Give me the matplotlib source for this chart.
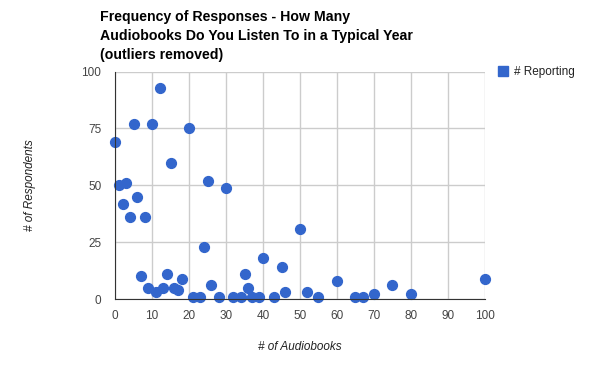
import matplotlib
matplotlib.use("Agg")
import matplotlib.pyplot as plt
from matplotlib.lines import Line2D

plt.rcParams['font.family'] = ['Liberation Sans', 'DejaVu Sans']

# audiobooks per year -> respondents
audiobooks = [0, 1, 2, 3, 4, 5, 6, 7, 8, 9, 10, 11, 12, 13, 14, 15, 16, 17, 18, 20,
              21, 23, 24, 25, 26, 28, 30, 32, 34, 35, 36, 37, 39, 40, 43, 45, 46,
              50, 52, 55, 60, 65, 67, 70, 75, 80, 100]
respondents = [69, 50, 42, 51, 36, 77, 45, 10, 36, 5, 77, 3, 93, 5, 11, 60, 5, 4, 9, 75,
               1, 1, 23, 52, 6, 1, 49, 1, 1, 11, 5, 1, 1, 18, 1, 14, 3,
               31, 3, 1, 8, 1, 1, 2, 6, 2, 9]

fig = plt.figure(figsize=(6, 3.71), dpi=100)
ax = fig.add_axes([0.192, 0.194, 0.616, 0.613])

ax.scatter(audiobooks, respondents, s=50, color='#3366cc', zorder=3, clip_on=False)

ax.set_xlim(0, 100)
ax.set_ylim(0, 100)
ax.set_xticks(range(0, 101, 10))
ax.set_yticks([0, 25, 50, 75, 100])
ax.grid(True, color='#cccccc', linewidth=1)
ax.set_axisbelow(True)
for s in ['top', 'right']:
    ax.spines[s].set_visible(False)
for s in ['left', 'bottom']:
    ax.spines[s].set_color('#333333')
    ax.spines[s].set_zorder(4)
ax.tick_params(length=0, labelsize=8.5, labelcolor='#444444', pad=8)
ax.tick_params(axis='y', pad=10)

ax.set_xlabel('# of Audiobooks', fontsize=8.5, style='italic', color='#222222', labelpad=13.5)
ax.set_ylabel('# of Respondents', fontsize=8.5, style='italic', color='#222222', labelpad=33)

fig.text(100 / 600, 1 - 9.5 / 371,
         'Frequency of Responses - How Many\nAudiobooks Do You Listen To in a Typical Year\n(outliers removed)',
         ha='left', va='top', fontsize=10.2, fontweight='bold', linespacing=1.5)

handle = Line2D([], [], marker='s', linestyle='none', markersize=7.5, color='#3366cc')
ax.legend([handle], ['# Reporting'], loc='upper left', bbox_to_anchor=(1.037, 1.025),
          frameon=False, fontsize=8.5, handlelength=0.8, handletextpad=0.5,
          borderaxespad=0, borderpad=0, labelcolor='#222222')

fig.savefig('out.png', dpi=100)
